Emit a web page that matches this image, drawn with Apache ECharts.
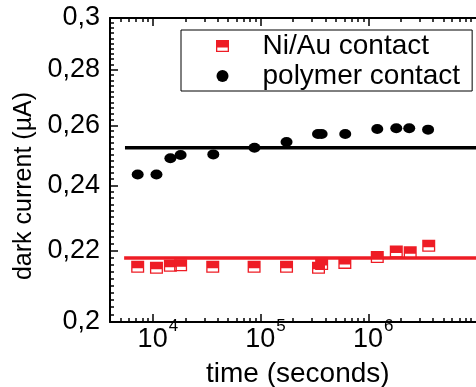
<!DOCTYPE html>
<html><head><meta charset="utf-8">
<script src="https://cdn.jsdelivr.net/npm/echarts@6/dist/echarts.min.js"></script>
<style>html,body{margin:0;padding:0;background:#fff}#c{width:476px;height:387px}</style>
</head><body><div id="c"></div>
<script>
// Ni/Au contact (red half-filled squares)
const nauTime = [7230, 10800, 14540, 18100, 35970, 87100, 174200, 345000, 369000, 606000, 1212000, 1820000, 2450000, 3640000];
const nauCurrent = [0.2153, 0.2150, 0.2156, 0.2157, 0.2153, 0.2153, 0.2153, 0.2150, 0.2161, 0.2164, 0.2181, 0.2197, 0.2195, 0.2214];
// polymer contact (black dots)
const polyTime = [7230, 10800, 14540, 18100, 36400, 87800, 174200, 341500, 369000, 611000, 1212000, 1820000, 2400000, 3590000];
const polyCurrent = [0.2435, 0.2435, 0.2488, 0.2499, 0.2501, 0.2523, 0.2543, 0.2570, 0.2570, 0.2570, 0.2587, 0.2590, 0.2590, 0.2585];
// horizontal mean lines
const polyFitTime = [5510, 1e7];
const polyFitValue = 0.2523;
const nauFitTime = [5410, 1e7];
const nauFitValue = 0.2178;
// ticks
const yMajor = [0.2, 0.22, 0.24, 0.26, 0.28, 0.3];
const xMajor = [1e4, 1e5, 1e6];
const xMinor = [5000, 6000, 7000, 8000, 9000,
  20000, 30000, 40000, 50000, 60000, 70000, 80000, 90000,
  200000, 300000, 400000, 500000, 600000, 700000, 800000, 900000,
  2e6, 3e6, 4e6, 5e6, 6e6, 7e6, 8e6, 9e6];
const yMinor = [];
for (let i = 101; i < 150; i++) { if (i % 10) yMinor.push(+(i * 0.002).toFixed(3)); }

const FONT = '"Liberation Sans", Arial, sans-serif';
const X_MIN = 4000, X_MAX = 1e7, Y_MIN = 0.2, Y_MAX = 0.3;
const RED = '#ee1c25';
const halfSquare = 'path://M0,0H13V7.5H0Z M0,7.5H13V12H0Z M1.3,7.5V10.7H11.7V7.5Z';

function xAxisDef(pos, ticks, len, withLine, extra) {
  return Object.assign({
    type: 'log', min: X_MIN, max: X_MAX, position: pos,
    axisLine: { show: withLine, onZero: false, lineStyle: { color: '#000', width: 2 } },
    axisTick: { show: true, inside: true, length: len, customValues: ticks, lineStyle: { color: '#000', width: 1.5 } },
    axisLabel: { show: false },
    splitLine: { show: false }
  }, extra || {});
}
function yAxisDef(ticks, len, withLine, extra) {
  return Object.assign({
    type: 'log', min: Y_MIN, max: Y_MAX, position: 'left',
    axisLine: { show: withLine, onZero: false, lineStyle: { color: '#000', width: 2 } },
    axisTick: { show: true, inside: true, length: len, customValues: ticks, lineStyle: { color: '#000', width: 1.5 } },
    axisLabel: { show: false },
    splitLine: { show: false }
  }, extra || {});
}

const chart = echarts.init(document.getElementById('c'), null, { renderer: 'canvas' });
chart.setOption({
  animation: false,
  backgroundColor: '#fff',
  textStyle: { fontFamily: FONT },
  grid: { left: 110, top: 18, bottom: 65, right: -37.3, containLabel: false },
  legend: {
    data: ['Ni/Au contact', 'polymer contact'],
    orient: 'vertical', left: 181, top: 30,
    padding: [2, 12, 1, 35], itemGap: 2, itemWidth: 70, itemHeight: 12,
    borderColor: '#000', borderWidth: 1, selectedMode: false,
    textStyle: { fontSize: 28, color: '#000', lineHeight: 28, fontFamily: FONT }
  },
  graphic: [{
    type: 'text', left: 298 - 92, top: 360,
    style: { text: 'time (seconds)', fontSize: 28, fill: '#000', fontFamily: FONT }
  }],
  xAxis: [
    xAxisDef('bottom', xMajor, 8, true, {
      axisLabel: {
        show: true, customValues: xMajor, margin: -4,
        formatter: v => '{b|10}{s|' + Math.round(Math.log10(v)) + '}',
        rich: {
          b: { fontSize: 27, lineHeight: 27, color: '#000', fontFamily: FONT, padding: [8, 0, 0, 10], verticalAlign: 'top' },
          s: { fontSize: 17, lineHeight: 17, color: '#000', fontFamily: FONT, verticalAlign: 'top', padding: [0, 0, 0, 1] }
        }
      }
    }),
    xAxisDef('bottom', xMinor, 4, false),
    xAxisDef('top', xMajor, 8, true),
    xAxisDef('top', xMinor, 4, false)
  ],
  yAxis: [
    yAxisDef(yMajor, 8, true, {
      axisLabel: {
        show: true, customValues: yMajor, margin: 10, fontSize: 27, color: '#000', fontFamily: FONT,
        formatter: v => String(+(+v).toFixed(2)).replace('.', ',')
      },
      name: 'dark current (\u00b5A)', nameLocation: 'middle', nameGap: 70,
      nameTextStyle: { fontSize: 25, color: '#000', fontFamily: FONT, padding: [0, 32, 0, 0] }
    }),
    yAxisDef(yMinor, 4, false)
  ],
  series: [
    {
      type: 'line', name: 'polymer fit', xAxisIndex: 0, yAxisIndex: 0,
      data: polyFitTime.map(t => [t, polyFitValue]),
      symbol: 'none', silent: true, z: 2,
      lineStyle: { color: '#000', width: 3.5 }
    },
    {
      type: 'line', name: 'Ni/Au fit', xAxisIndex: 0, yAxisIndex: 0,
      data: nauFitTime.map(t => [t, nauFitValue]),
      symbol: 'none', silent: true, z: 2,
      lineStyle: { color: RED, width: 3.5 }
    },
    {
      type: 'scatter', name: 'Ni/Au contact', xAxisIndex: 0, yAxisIndex: 0,
      data: nauTime.map((t, i) => [t, nauCurrent[i]]),
      symbol: halfSquare, symbolSize: [13, 12], z: 3,
      itemStyle: { color: RED, opacity: 1 }
    },
    {
      type: 'scatter', name: 'polymer contact', xAxisIndex: 0, yAxisIndex: 0,
      data: polyTime.map((t, i) => [t, polyCurrent[i]]),
      symbol: 'circle', symbolSize: [12, 10], z: 3,
      itemStyle: { color: '#000', opacity: 1 }
    }
  ]
});
</script>
</body></html>
